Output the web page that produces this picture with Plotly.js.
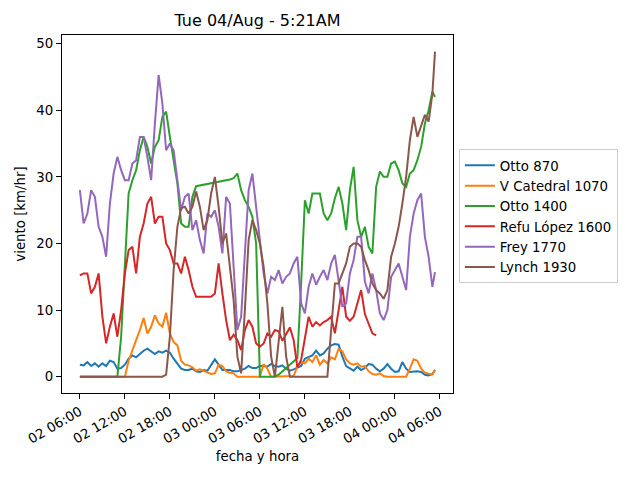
<!DOCTYPE html>
<html>
<head>
<meta charset="utf-8">
<script src="https://cdn.plot.ly/plotly-3.0.1.min.js"></script>
<style>html,body{margin:0;padding:0;background:#fff;}#chart{width:640px;height:480px;}</style>
</head>
<body>
<div id="chart"></div>
<script>
// Sample times (30 min steps, last reading 05:21)
const times = [
 '2020-08-02 06:00','2020-08-02 06:30','2020-08-02 07:00','2020-08-02 07:30','2020-08-02 08:00','2020-08-02 08:30',
 '2020-08-02 09:00','2020-08-02 09:30','2020-08-02 10:00','2020-08-02 10:30','2020-08-02 11:00','2020-08-02 11:30',
 '2020-08-02 12:00','2020-08-02 12:30','2020-08-02 13:00','2020-08-02 13:30','2020-08-02 14:00','2020-08-02 14:30',
 '2020-08-02 15:00','2020-08-02 15:30','2020-08-02 16:00','2020-08-02 16:30','2020-08-02 17:00','2020-08-02 17:30',
 '2020-08-02 18:00','2020-08-02 18:30','2020-08-02 19:00','2020-08-02 19:30','2020-08-02 20:00','2020-08-02 20:30',
 '2020-08-02 21:00','2020-08-02 21:30','2020-08-02 22:00','2020-08-02 22:30','2020-08-02 23:00','2020-08-02 23:30',
 '2020-08-03 00:00','2020-08-03 00:30','2020-08-03 01:00','2020-08-03 01:30','2020-08-03 02:00','2020-08-03 02:30',
 '2020-08-03 03:00','2020-08-03 03:30','2020-08-03 04:00','2020-08-03 04:30','2020-08-03 05:00','2020-08-03 05:30',
 '2020-08-03 06:00','2020-08-03 06:30','2020-08-03 07:00','2020-08-03 07:30','2020-08-03 08:00','2020-08-03 08:30',
 '2020-08-03 09:00','2020-08-03 09:30','2020-08-03 10:00','2020-08-03 10:30','2020-08-03 11:00','2020-08-03 11:30',
 '2020-08-03 12:00','2020-08-03 12:30','2020-08-03 13:00','2020-08-03 13:30','2020-08-03 14:00','2020-08-03 14:30',
 '2020-08-03 15:00','2020-08-03 15:30','2020-08-03 16:00','2020-08-03 16:30','2020-08-03 17:00','2020-08-03 17:30',
 '2020-08-03 18:00','2020-08-03 18:30','2020-08-03 19:00','2020-08-03 19:30','2020-08-03 20:00','2020-08-03 20:30',
 '2020-08-03 21:00','2020-08-03 21:30','2020-08-03 22:00','2020-08-03 22:30','2020-08-03 23:00','2020-08-03 23:30',
 '2020-08-04 00:00','2020-08-04 00:30','2020-08-04 01:00','2020-08-04 01:30','2020-08-04 02:00','2020-08-04 02:30',
 '2020-08-04 03:00','2020-08-04 03:30','2020-08-04 04:00','2020-08-04 04:30','2020-08-04 05:00','2020-08-04 05:21'
];

const seriesNames = ['Otto 870','V Catedral 1070','Otto 1400','Refu López 1600','Frey 1770','Lynch 1930'];
const seriesColors = ['#1f77b4','#ff7f0e','#2ca02c','#d62728','#9467bd','#8c564b'];

const otto870 = [
 1.8,1.7,2.2,1.6,2.0,1.5,2.0,1.6,2.4,2.2,1.2,1.3,1.8,2.7,3.2,2.9,3.4,3.9,4.2,3.8,3.4,3.8,3.6,3.9,
 3.6,2.7,1.9,1.2,1.0,1.0,1.2,0.8,0.7,1.0,0.9,1.8,2.6,1.8,1.0,1.0,1.0,0.8,0.8,1.0,1.2,1.6,1.3,1.3,
 1.6,1.6,1.5,1.9,1.6,1.5,1.7,1.2,0.9,1.1,1.3,1.6,2.7,2.9,3.2,3.9,3.2,3.5,4.2,4.7,4.9,4.8,3.0,1.6,
 1.2,0.9,1.5,1.0,1.3,1.9,1.8,1.2,0.8,1.2,1.9,1.2,0.7,0.8,2.2,1.2,0.7,0.8,0.8,0.7,0.3,0.2,0.4,1.0
];
const vCatedral1070 = [
 0,0,0,0,0,0,0,0,0,0,0,0,0,2.4,4.1,5.5,7.0,8.8,6.5,7.5,9.2,8.0,7.5,9.6,
 6.5,5.2,4.7,2.4,1.8,1.7,1.4,0.9,1.1,0.9,0.6,0.4,0.5,1.8,1.6,0.8,0.6,0.5,0,0,0,0,0,0,
 0,1.9,1.2,0,0,0,0,0,0,0.1,1.6,2.2,2.0,2.7,2.2,3.2,1.8,2.5,2.0,2.9,2.6,4.2,3.8,2.6,
 2.0,1.8,2.0,1.5,1.6,0.8,0.4,0.3,0.5,0.1,0,0,0,0,0,0,1.2,2.6,2.4,1.2,0.6,0.4,0.3,1.0
];
const otto1400 = [
 0,0,0,0,0,0,0,0,0,0,0,6,17,27.5,29.5,31,34,36,34.5,32,34.5,35.5,39,39.8,
 36,32.5,29,23,22.5,22.5,27,28.6,28.7,28.8,29,29.1,29.2,29.3,29.4,29.5,29.6,29.8,30.5,28,26.5,25.5,24,20,
 0,0,0,0,0,0.3,0.8,1.3,1.8,2.3,2.8,14,26.5,24.5,27.5,27.5,27.5,24.5,23.5,24.5,26.8,28.5,26,22,
 28,31.5,23.5,21,22.5,19.5,18.5,28.5,30.8,30,30,32,32.3,31,29,28.5,30.5,31,32.5,34.5,38,40,42.8,42
];
const refuLopez1600 = [
 15.2,15.5,15.5,12.5,13.5,15.5,9,5,7.5,9.5,6,10,15.5,19,19.5,15.5,21,23,26,27,23,24,24,20,
 19,17,17,15.5,18,16,13.5,12,12,12,12,12,12.5,17,12.5,8.5,5.5,6.3,5.5,4,7,8.5,7.5,5,
 4.5,5,6.5,6,7,6.8,5.4,6.5,7.4,5.5,1.4,2.5,6,9,7.5,8.2,7.7,8.2,8.5,9,6.5,10,13.5,9,
 8.4,9,11,13,9.4,8,6.5,6.2
];
const frey1770 = [
 28,23,24.5,28,27,22.5,21,18,26,30.5,33,31,29.5,29.5,32,32.5,36,36,33,29.5,38,45.3,41,34,
 35,34,29.5,25,27,27.5,22,23.5,20.5,18.5,24.5,24,25,22.5,18.5,27,26,15.5,7,9,19,28,30.5,25.5,
 20,15.5,12.5,15,14.5,16,14,15,15.5,17,18,11,9.5,13.5,15.5,13.8,15,16,14.5,17,18.3,14,10.5,11,
 15.5,17.5,21,21,14.3,12.5,15.5,13,9.5,8.5,10,15,16,17,15,13,21,24.5,26.5,27.5,21,18,13.5,15.7
];
const lynch1930 = [
 0,0,0,0,0,0,0,0,0,0,0,0,0,0,0,0,0,0,0,0,0,0,0,0.3,
 6,16,22.5,25.3,25.5,24.5,25.5,27.8,25.5,22,23.5,27.5,30,25.5,20,21.5,16.5,11.5,3,0.5,10,20.5,23.5,22,
 20,16.5,11,3,0,5,10.5,3,0,0,0,0,0,0,0,0,0,0,0,7,14,14,15.5,17,
 19.5,20,20,19.5,17.5,16,14,13,12.5,11.7,13,18,20,22.5,26,30,35.5,39,36,37.5,39.3,38.3,42.5,48.8
];

const seriesValues = [otto870, vCatedral1070, otto1400, refuLopez1600, frey1770, lynch1930];

const traces = seriesNames.map((name, k) => ({
  type: 'scatter',
  mode: 'lines',
  name: name,
  x: times.slice(0, seriesValues[k].length),
  y: seriesValues[k],
  line: {color: seriesColors[k], width: 2}
}));

const FS = 13.33;
const axisCommon = {
  showline: true, linecolor: '#000', linewidth: 1, mirror: true,
  ticks: 'outside', ticklen: 5, tickwidth: 1, tickcolor: '#000',
  showgrid: false, zeroline: false,
  tickfont: {family: 'DejaVu Sans', size: FS, color: '#000'}
};

const layout = {
  width: 640, height: 480,
  margin: {l: 62, r: 187, t: 35, b: 87},
  paper_bgcolor: '#fff', plot_bgcolor: '#fff',
  font: {family: 'DejaVu Sans', size: FS, color: '#000'},
  title: {text: 'Tue 04/Aug - 5:21AM', x: 0.5, xref: 'paper', xanchor: 'center',
          y: 0.958, yref: 'container', yanchor: 'middle',
          font: {family: 'DejaVu Sans', size: 16, color: '#000'}},
  xaxis: Object.assign({}, axisCommon, {
    type: 'date',
    range: ['2020-08-02 03:37', '2020-08-04 07:45'],
    tick0: '2020-08-02 06:00', dtick: 21600000,
    tickformat: '%d %H:%M', tickangle: -30,
    title: {text: 'fecha y hora', font: {family: 'DejaVu Sans', size: FS, color: '#000'}}
  }),
  yaxis: Object.assign({}, axisCommon, {
    range: [-2.45, 51.3], tick0: 0, dtick: 10,
    title: {text: 'viento [km/hr]', font: {family: 'DejaVu Sans', size: FS, color: '#000'}}
  }),
  showlegend: true,
  legend: {x: 1.015, xanchor: 'left', y: 0.494, yanchor: 'middle',
           bgcolor: '#fff', bordercolor: '#cccccc', borderwidth: 1,
           font: {family: 'DejaVu Sans', size: FS, color: '#000'},
           tracegroupgap: 0}
};

Plotly.newPlot('chart', traces, layout, {displayModeBar: false, staticPlot: true});
</script>
</body>
</html>
